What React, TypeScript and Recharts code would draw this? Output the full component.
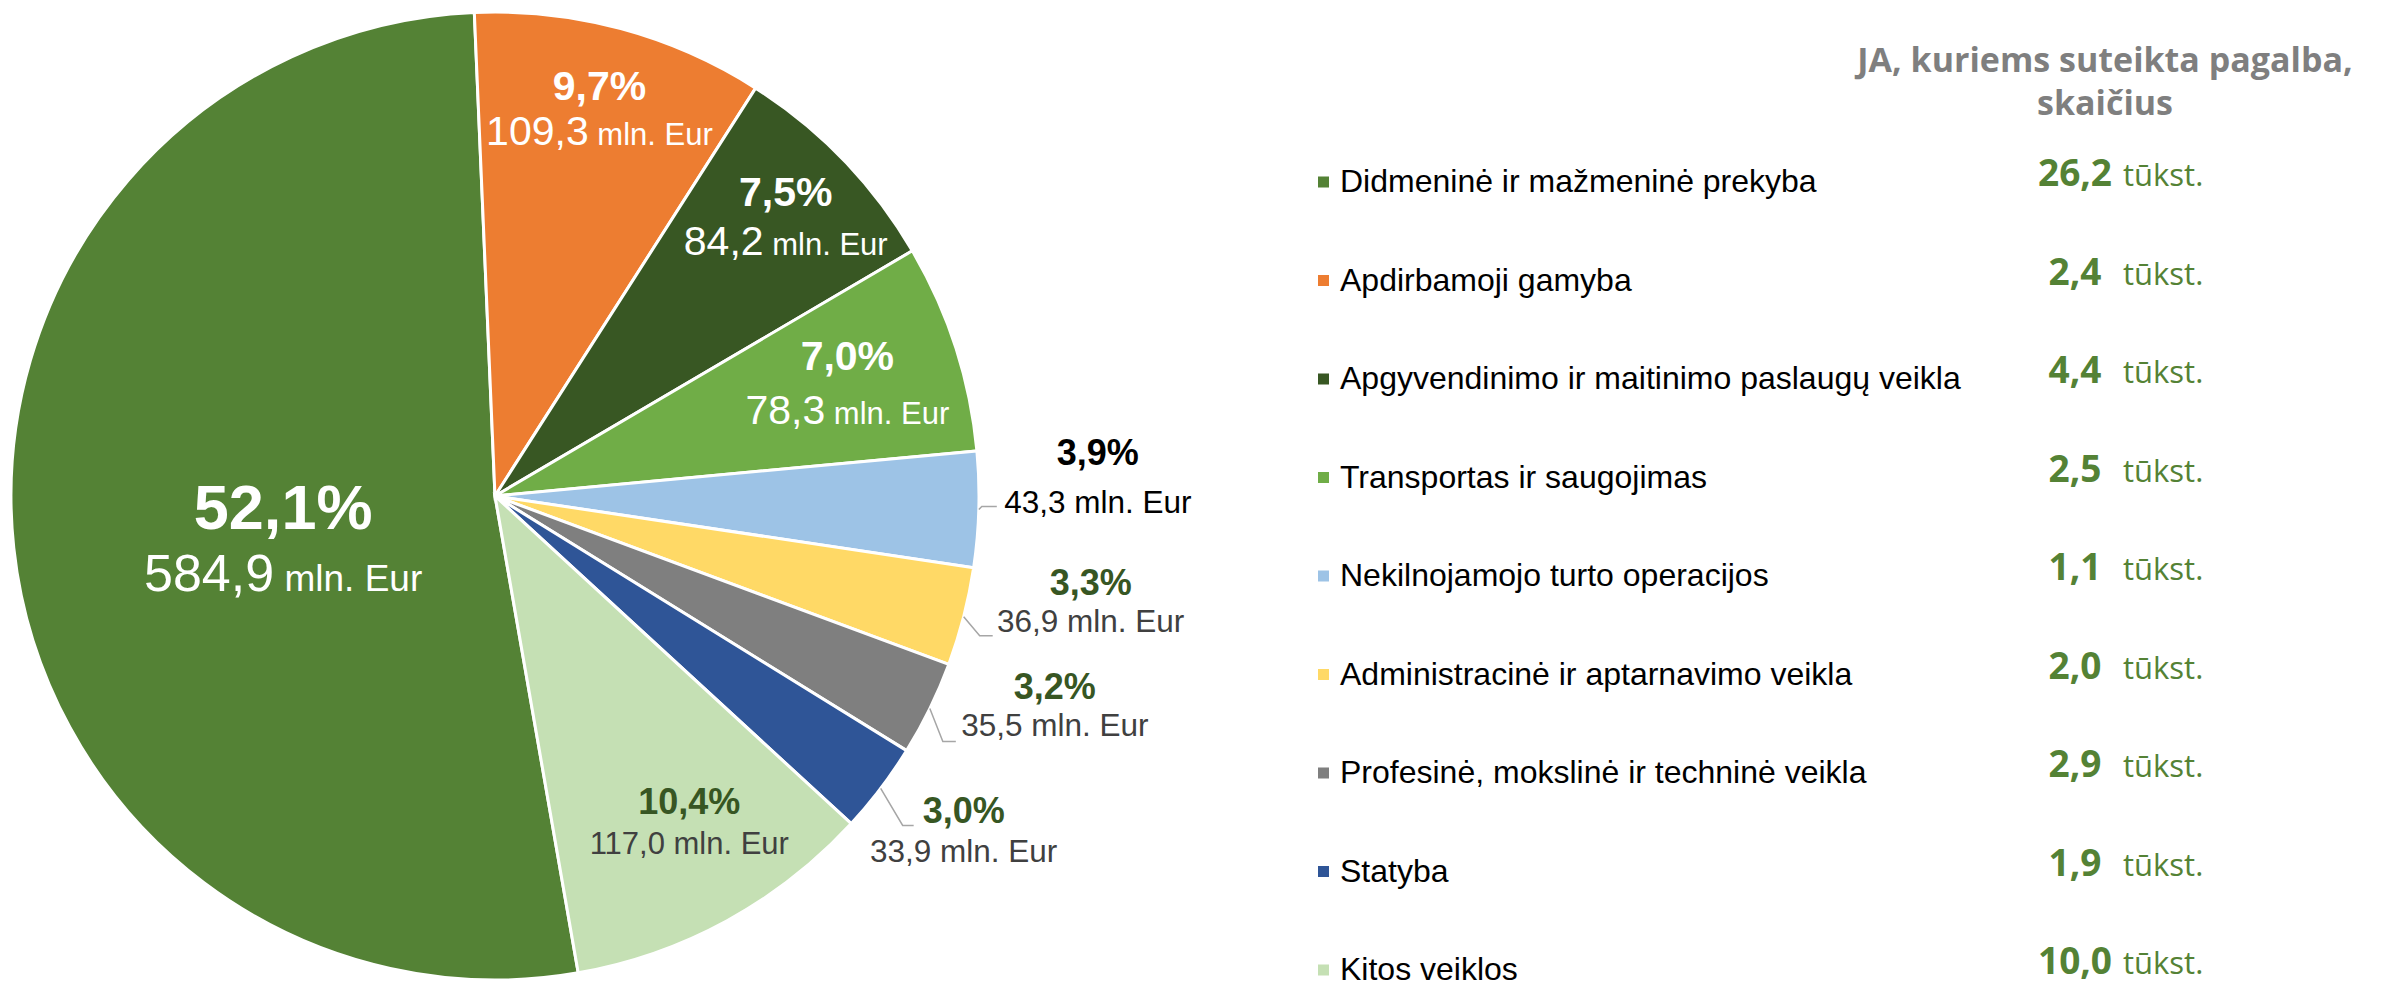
import React from 'react';
import { PieChart, Pie, Cell, Legend } from 'recharts';

// Sectors, support amount (mln. Eur) and number of companies helped (tūkst.)
const sectors = [
    'Didmeninė ir mažmeninė prekyba',
    'Apdirbamoji gamyba',
    'Apgyvendinimo ir maitinimo paslaugų veikla',
    'Transportas ir saugojimas',
    'Nekilnojamojo turto operacijos',
    'Administracinė ir aptarnavimo veikla',
    'Profesinė, mokslinė ir techninė veikla',
    'Statyba',
    'Kitos veiklos',
];
const amounts = [584.9, 109.3, 84.2, 78.3, 43.3, 36.9, 35.5, 33.9, 117.0];
const companies = [26.2, 2.4, 4.4, 2.5, 1.1, 2.0, 2.9, 1.9, 10.0];
const countTitle = ['JA, kuriems suteikta pagalba,', 'skaičius'];
const amountUnit = 'mln. Eur';
const countUnit = 'tūkst.';

const colors = ['#548235', '#ED7D31', '#385723', '#70AD47', '#9DC3E6', '#FFD966', '#7F7F7F', '#2F5597', '#C5E0B4'];

const pieData = sectors.map((name, i) => ({ name, value: amounts[i] }));

const W = 2384;
const H = 987;
const CX = 495;
const CY = 496;
const R = 484;
const ARIAL = '"Liberation Sans", Arial, sans-serif';
const HUMANIST = '"Open Sans", "Noto Sans", sans-serif';
const DARK_GREEN = '#375623';
const GREEN = '#548235';

const RAD = Math.PI / 180;
function polar(cx: number, cy: number, r: number, angle: number) {
    return { x: cx + Math.cos(-angle * RAD) * r, y: cy + Math.sin(-angle * RAD) * r };
}

function fmt(v: number): string {
    return v.toFixed(1).replace('.', ',');
}

// labels drawn inside the slices
const INSIDE: Record<number, { r: number; shift: number; gap: number; pct: number; num: number; unit: number; pctColor: string; valColor: string }> = {
    0: { r: 0.447, shift: 5.5, gap: 33, pct: 63, num: 52, unit: 37, pctColor: '#fff', valColor: '#fff' },
    1: { r: 0.83, shift: 0, gap: 22.5, pct: 41, num: 41, unit: 31, pctColor: '#fff', valColor: '#fff' },
    2: { r: 0.834, shift: 0, gap: 24.5, pct: 41, num: 41, unit: 31, pctColor: '#fff', valColor: '#fff' },
    3: { r: 0.765, shift: 0, gap: 27, pct: 41, num: 41, unit: 31, pctColor: '#fff', valColor: '#fff' },
    8: { r: 0.784, shift: 2.15, gap: 20.5, pct: 36, num: 31, unit: 31, pctColor: DARK_GREEN, valColor: '#404040' },
};

// labels outside the pie, with leader lines
const OUTSIDE: Record<number, { elbow: [number, number]; run: number; dx: number; pctDy: number; valDy: number; pctColor: string; valColor: string }> = {
    4: { elbow: [3, -3], run: 15, dx: 101, pctDy: -54, valDy: -5, pctColor: '#000', valColor: '#000' },
    5: { elbow: [16, 19], run: 13, dx: 98, pctDy: -54, valDy: -15, pctColor: DARK_GREEN, valColor: '#404040' },
    6: { elbow: [13, 33], run: 13, dx: 99, pctDy: -56, valDy: -17, pctColor: DARK_GREEN, valColor: '#404040' },
    7: { elbow: [22, 37], run: 11, dx: 50, pctDy: -15, valDy: 25, pctColor: DARK_GREEN, valColor: '#404040' },
};

function leaderPoints(props: any) {
    const { cx, cy, midAngle, outerRadius, index } = props;
    const o = OUTSIDE[index];
    const s = polar(cx, cy, outerRadius, midAngle);
    const e = { x: s.x + o.elbow[0], y: s.y + o.elbow[1] };
    const f = { x: e.x + o.run, y: e.y };
    return [s, e, f];
}

function renderLabelLine(props: any) {
    if (!OUTSIDE[props.index]) return <g />;
    const pts = leaderPoints(props);
    return (
        <polyline
            points={pts.map((p) => `${p.x},${p.y}`).join(' ')}
            fill="none"
            stroke="#A6A6A6"
            strokeWidth={1.5}
        />
    );
}

function renderLabel(props: any) {
    const { cx, cy, midAngle, outerRadius, percent, value, index } = props;
    const pctText = `${fmt(percent * 100)}%`;
    const numText = fmt(value);
    const ins = INSIDE[index];
    if (ins) {
        const p = polar(cx, cy, outerRadius * ins.r, midAngle + ins.shift);
        return (
            <g fontFamily={ARIAL}>
                <text x={p.x} y={p.y - ins.gap + 0.358 * ins.pct} textAnchor="middle" fontSize={ins.pct} fontWeight="bold" fill={ins.pctColor}>
                    {pctText}
                </text>
                <text x={p.x} y={p.y + ins.gap + 0.358 * ins.num} textAnchor="middle" fill={ins.valColor}>
                    <tspan fontSize={ins.num}>{numText}</tspan>
                    <tspan fontSize={ins.unit}>{` ${amountUnit}`}</tspan>
                </text>
            </g>
        );
    }
    const o = OUTSIDE[index];
    const end = leaderPoints(props)[2];
    const x = end.x + o.dx;
    return (
        <g fontFamily={ARIAL}>
            <text x={x} y={end.y + o.pctDy + 13} textAnchor="middle" fontSize={36} fontWeight="bold" fill={o.pctColor}>
                {pctText}
            </text>
            <text x={x} y={end.y + o.valDy + 11.5} textAnchor="middle" fontSize={31.5} fill={o.valColor}>
                {`${numText} ${amountUnit}`}
            </text>
        </g>
    );
}

const LEGEND_LEFT = 1300;
const ROW0 = 192;
const ROW_STEP = 98.5;

function CountsLegend(props: any) {
    const payload: any[] = props.payload ?? [];
    // legend payload comes sorted by name, so match it back to the data order
    const rows = sectors.map((name, i) => {
        const entry = payload.find((p) => p?.value === name);
        return { name, color: entry?.color ?? colors[i] };
    });
    return (
        <svg width={W - LEGEND_LEFT} height={H} style={{ display: 'block' }}>
            <g fontFamily={HUMANIST} fontWeight="bold" fontSize={34} fill="#7F7F7F" textAnchor="middle">
                <text x={2105 - LEGEND_LEFT} y={72}>{countTitle[0]}</text>
                <text x={2105 - LEGEND_LEFT} y={115}>{countTitle[1]}</text>
            </g>
            {rows.map((r, i) => {
                const base = ROW0 + ROW_STEP * i;
                return (
                    <g key={r.name}>
                        <rect x={18} y={base - 15.5} width={11} height={11} fill={r.color} />
                        <text x={40} y={base} fontFamily={ARIAL} fontSize={32} fill="#000">
                            {r.name}
                        </text>
                        <text x={2075 - LEGEND_LEFT} y={base - 6} fontFamily={HUMANIST} fontSize={37} fontWeight="bold" fill={GREEN} textAnchor="middle">
                            {fmt(companies[i])}
                        </text>
                        <text x={2123 - LEGEND_LEFT} y={base - 6} fontFamily={HUMANIST} fontSize={31} fill={GREEN}>
                            {countUnit}
                        </text>
                    </g>
                );
            })}
        </svg>
    );
}

export default function App() {
    return (
        <div style={{ position: 'absolute', left: 0, top: 0, width: W, height: H, background: '#fff' }}>
            <PieChart width={W} height={H} margin={{ top: 0, right: 0, bottom: 0, left: 0 }}>
                <Pie
                    data={pieData}
                    dataKey="value"
                    nameKey="name"
                    cx={CX}
                    cy={CY}
                    outerRadius={R}
                    startAngle={-80.1}
                    endAngle={-440.1}
                    stroke="#fff"
                    strokeWidth={3}
                    label={renderLabel}
                    labelLine={renderLabelLine}
                    isAnimationActive={false}
                >
                    {pieData.map((d, i) => (
                        <Cell key={d.name} fill={colors[i]} />
                    ))}
                </Pie>
                <Legend
                    layout="vertical"
                    align="right"
                    verticalAlign="top"
                    content={CountsLegend}
                    wrapperStyle={{ left: LEGEND_LEFT, top: 0, right: 'auto', bottom: 'auto', width: W - LEGEND_LEFT, height: H }}
                />
            </PieChart>
        </div>
    );
}
